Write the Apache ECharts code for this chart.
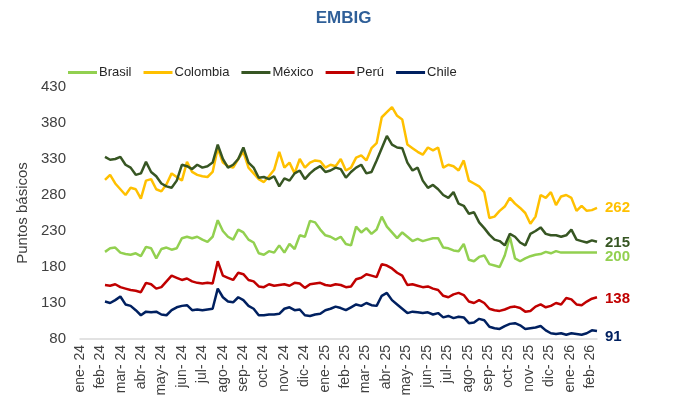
<!DOCTYPE html>
<html lang="es">
<head>
  <meta charset="UTF-8">
  <title>EMBIG</title>
  <script src="https://cdn.jsdelivr.net/npm/echarts@6/dist/echarts.min.js"></script>
</head>
<body style="margin:0">
  <div id="chart" style="width:687px;height:410px"></div>
  <script>
    // etiquetas del eje x (una por mes)
    var months = ['ene- 24','feb- 24','mar- 24','abr- 24','may- 24','jun- 24','jul- 24','ago- 24','sep- 24','oct- 24','nov- 24','dic- 24',
      'ene- 25','feb- 25','mar- 25','abr- 25','may- 25','jun- 25','jul- 25','ago- 25','sep- 25','oct- 25','nov- 25','dic- 25',
      'ene- 26','feb- 26']

    // datos semanales, en puntos básicos
    var brasil = [201,206,207,200,198,197,199,195,208,206,192,205,207,204,206,220,222,220,222,218,
      215,222,245,230,222,218,232,228,218,214,199,197,202,200,210,200,212,205,224,
      222,244,242,232,224,222,218,222,212,210,236,228,234,226,232,250,236,228,220,
      228,222,216,219,216,218,220,220,207,206,203,202,212,190,188,194,196,184,182,180,
      196,222,192,188,192,195,197,198,201,199,202,200,200,200,200,200,200,200,200]
    var colombia = [301,308,296,288,280,290,288,275,300,302,288,285,295,310,305,300,326,312,308,306,
      305,312,345,325,320,318,330,340,318,310,302,298,306,315,340,318,325,310,330,
      318,325,328,327,318,322,320,330,314,318,332,335,328,345,352,388,395,402,390,
      385,350,345,340,336,346,342,346,318,322,320,314,328,300,296,292,284,248,250,258,
      264,276,268,262,255,240,250,280,276,284,266,278,280,276,258,265,258,259,262]
    var mexico = [333,329,330,333,322,318,308,310,326,312,306,296,292,290,300,322,320,316,322,318,
      320,325,350,330,318,322,330,346,325,318,304,305,302,306,292,303,300,310,314,
      302,310,316,320,312,314,318,316,304,312,318,322,310,312,328,345,362,350,346,
      345,325,314,318,300,290,294,288,280,276,284,268,265,254,256,242,234,225,218,216,
      210,226,222,214,210,226,230,235,226,224,224,222,224,232,218,216,214,217,215]
    var peru = [155,154,156,152,150,148,147,145,158,156,150,152,160,168,165,162,164,160,158,157,
      158,157,188,168,165,162,172,170,162,160,153,152,156,154,155,156,154,158,157,
      151,156,157,158,155,154,156,155,152,153,163,165,170,168,166,184,182,178,172,
      168,155,156,154,152,153,150,148,140,138,142,144,141,132,130,134,130,122,120,119,
      121,124,125,123,118,119,125,128,124,126,130,128,137,135,128,127,132,136,138]
    var chile = [132,130,134,139,128,126,120,113,118,117,118,114,113,120,124,126,127,120,121,120,
      121,122,150,138,132,131,138,134,126,122,113,113,114,114,115,122,124,120,121,
      113,112,114,115,120,122,125,123,120,124,128,126,130,127,126,140,144,134,128,
      122,116,118,117,116,117,114,116,110,112,109,111,110,102,103,108,106,97,95,94,
      98,101,102,99,94,95,96,98,92,88,87,88,86,88,87,86,88,92,91]

    // fechas de la primera y última observación, en meses desde ene-24
    var firstObs = 1.225
    var lastObs = 25.34

    function withDates(values) {
      var step = (lastObs - firstObs) / (values.length - 1)
      return values.map(function (v, i) { return [firstObs + i * step, v] })
    }

    var labelFont = 'Liberation Sans, Arial, sans-serif'

    function serie(name, values, color, offset) {
      return {
        name: name,
        type: 'line',
        data: withDates(values),
        showSymbol: false,
        lineStyle: { width: 2.5, color: color },
        itemStyle: { color: color },
        endLabel: {
          show: true,
          distance: 8,
          offset: offset || [0, 0],
          color: color,
          fontWeight: 'bold',
          fontSize: 15,
          fontFamily: labelFont,
          formatter: function (p) { return p.value[1] }
        }
      }
    }

    var myChart = echarts.init(document.getElementById('chart'))
    var option = {
      animation: false,
      title: {
        text: 'EMBIG',
        left: 'center',
        top: 5,
        textStyle: { color: '#2f5f98', fontSize: 17, fontWeight: 'bold', fontFamily: labelFont }
      },
      legend: {
        left: 68,
        top: 66,
        padding: 0,
        icon: 'rect',
        itemWidth: 29,
        itemHeight: 3,
        itemGap: 12,
        textStyle: { color: '#262626', fontSize: 13, padding: [0, 0, 0, -3], fontFamily: labelFont }
      },
      grid: { left: 80, right: 90, top: 87, bottom: 71 },
      xAxis: {
        type: 'value',
        min: 0,
        max: lastObs,
        interval: 1,
        splitLine: { show: false },
        axisTick: { show: false },
        axisLine: { lineStyle: { color: '#d9d9d9', width: 1.5 } },
        axisLabel: {
          rotate: 90,
          margin: 6,
          showMaxLabel: false,
          color: '#404040',
          fontSize: 14,
          fontFamily: labelFont,
          formatter: function (v) {
            var i = Math.round(v)
            return Math.abs(v - i) < 0.01 ? (months[i] || '') : ''
          }
        }
      },
      yAxis: {
        type: 'value',
        min: 80,
        max: 430,
        interval: 50,
        name: 'Puntos básicos',
        nameLocation: 'middle',
        nameGap: 45,
        nameTextStyle: { color: '#404040', fontSize: 15, fontFamily: labelFont },
        splitLine: { show: false },
        axisLine: { show: false },
        axisTick: { show: false },
        axisLabel: { color: '#404040', fontSize: 15, margin: 14, fontFamily: labelFont }
      },
      series: [
        serie('Brasil', brasil, '#92d050', [0, 4]),
        serie('Colombia', colombia, '#ffc000'),
        serie('México', mexico, '#375623', [0, 1]),
        serie('Perú', peru, '#c00000', [0, 2]),
        serie('Chile', chile, '#002060', [0, 6])
      ]
    }
    myChart.setOption(option)
  </script>
</body>
</html>
